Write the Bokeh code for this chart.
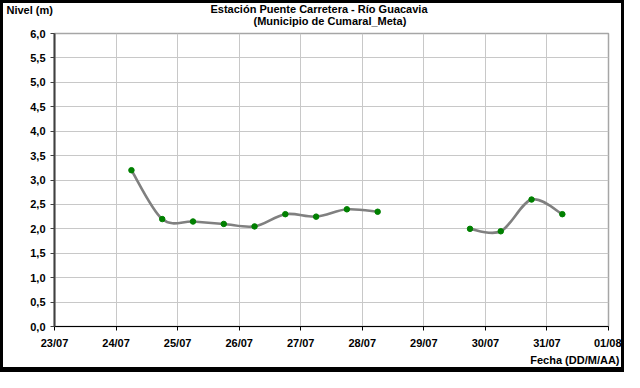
import numpy as np
import pandas as pd
from bokeh.plotting import figure
from bokeh.models import (ColumnDataSource, Range1d, FixedTicker, DaysTicker,
                          DatetimeTickFormatter, CustomJSTickFormatter, Title)
from bokeh.embed import file_html
from bokeh.resources import INLINE

# ---------------- data ----------------
times = ["2012-07-24 06:00", "2012-07-24 18:00", "2012-07-25 06:00", "2012-07-25 18:00",
         "2012-07-26 06:00", "2012-07-26 18:00", "2012-07-27 06:00", "2012-07-27 18:00",
         "2012-07-28 06:00", "2012-07-28 18:00", "2012-07-29 06:00", "2012-07-29 18:00",
         "2012-07-30 06:00", "2012-07-30 18:00", "2012-07-31 06:00"]
levels = [3.2, 2.2, 2.15, 2.1, 2.05, 2.3, 2.25, 2.4, 2.35,
          np.nan, np.nan, 2.0, 1.95, 2.6, 2.3]
y_ticks = [0.0, 0.5, 1.0, 1.5, 2.0, 2.5, 3.0, 3.5, 4.0, 4.5, 5.0, 5.5, 6.0]
x_start = "2012-07-23"
x_end = "2012-08-01"
title_line1 = "Estación Puente Carretera - Río Guacavia"
title_line2 = "(Municipio de Cumaral_Meta)"
y_title = "Nivel (m)"
x_title = "Fecha (DD/M/AA)"

FONT = "Arial"

t = pd.to_datetime(times)
xms = (t.values.astype("datetime64[ms]").astype("int64")).astype(float)
yv = np.array(levels, dtype=float)

# smoothed line (Excel-like smoothing: cubic Bezier through the points)
seg = dict(x0=[], y0=[], x1=[], y1=[], cx0=[], cy0=[], cx1=[], cy1=[])
runs, cur = [], []
for i in range(len(yv)):
    if np.isnan(yv[i]):
        if cur:
            runs.append(cur)
        cur = []
    else:
        cur.append(i)
if cur:
    runs.append(cur)
for r in runs:
    px = xms[r]
    py = yv[r]
    n = len(r)
    for k in range(n - 1):
        p0 = (px[max(k - 1, 0)], py[max(k - 1, 0)])
        p1 = (px[k], py[k])
        p2 = (px[k + 1], py[k + 1])
        p3 = (px[min(k + 2, n - 1)], py[min(k + 2, n - 1)])
        seg["x0"].append(p1[0]); seg["y0"].append(p1[1])
        seg["x1"].append(p2[0]); seg["y1"].append(p2[1])
        seg["cx0"].append(p1[0] + (p2[0] - p0[0]) / 6.0)
        seg["cy0"].append(p1[1] + (p2[1] - p0[1]) / 6.0)
        seg["cx1"].append(p2[0] - (p3[0] - p1[0]) / 6.0)
        seg["cy1"].append(p2[1] - (p3[1] - p1[1]) / 6.0)

# 624x372 element with a black border drawn inside it (visible area 618x364)
W, H = 624, 372
p = figure(width=W, height=H, output_backend="svg", toolbar_location=None,
           x_axis_type="datetime",
           x_range=Range1d(pd.Timestamp(x_start), pd.Timestamp(x_end)),
           y_range=Range1d(0, 6),
           min_border_left=51, min_border_right=19, min_border_top=30,
           min_border_bottom=49)
p.styles = {"border": "3px solid black", "border-bottom": "5px solid black"}
p.background_fill_color = "white"
p.border_fill_color = "white"
p.outline_line_color = "#a6a6a6"
p.outline_line_width = 1.5

# grid
p.xgrid.ticker = DaysTicker(days=list(range(1, 32)))
p.xgrid.grid_line_color = "#c8c8c8"
p.ygrid.grid_line_color = "#c8c8c8"

# axes
p.xaxis.ticker = DaysTicker(days=list(range(1, 32)), num_minor_ticks=0)
p.xaxis.formatter = DatetimeTickFormatter(days="%d/%m", months="%d/%m", hours="%d/%m")
p.yaxis.ticker = FixedTicker(ticks=y_ticks, minor_ticks=[])
p.yaxis.formatter = CustomJSTickFormatter(code="return tick.toFixed(1).replace('.', ',');")
for ax in (p.xaxis[0], p.yaxis[0]):
    ax.major_label_text_font = FONT
    ax.major_label_text_font_style = "bold"
    ax.major_label_text_font_size = "11px"
    ax.major_label_text_color = "black"
    ax.minor_tick_line_color = None
    ax.major_tick_in = 0
    ax.major_tick_out = 4
p.xaxis.axis_line_color = "black"
p.xaxis.axis_line_width = 1.2
p.xaxis.major_tick_line_color = "black"
p.xaxis.major_label_standoff = 6
p.yaxis.axis_line_color = "#404040"
p.yaxis.axis_line_width = 2
p.yaxis.major_tick_line_color = "#404040"
p.yaxis.major_label_standoff = 5

# data
p.bezier(x0="x0", y0="y0", x1="x1", y1="y1", cx0="cx0", cy0="cy0", cx1="cx1", cy1="cy1",
         source=ColumnDataSource(seg), line_color="#808080", line_width=2.6)
pts = ColumnDataSource(dict(x=t, y=yv))
p.scatter(x="x", y="y", source=pts, size=5.5, fill_color="#008000",
          line_color="#008000", marker="circle")

# titles (panels)
def ttl(text, place, align, offset, standoff, valign="bottom"):
    p.add_layout(Title(text=text, align=align, offset=offset, standoff=standoff,
                       vertical_align=valign,
                       text_font=FONT, text_font_style="bold", text_font_size="11px",
                       text_color="black"), place)

ttl(title_line2, "above", "left", 199, 9, "top")
ttl(title_line1, "above", "left", 156, -13, "top")
ttl(y_title, "above", "left", -48, -13, "bottom")
ttl(x_title, "below", "right", -11, 0)

open("out.html", "w").write(file_html(p, INLINE))
